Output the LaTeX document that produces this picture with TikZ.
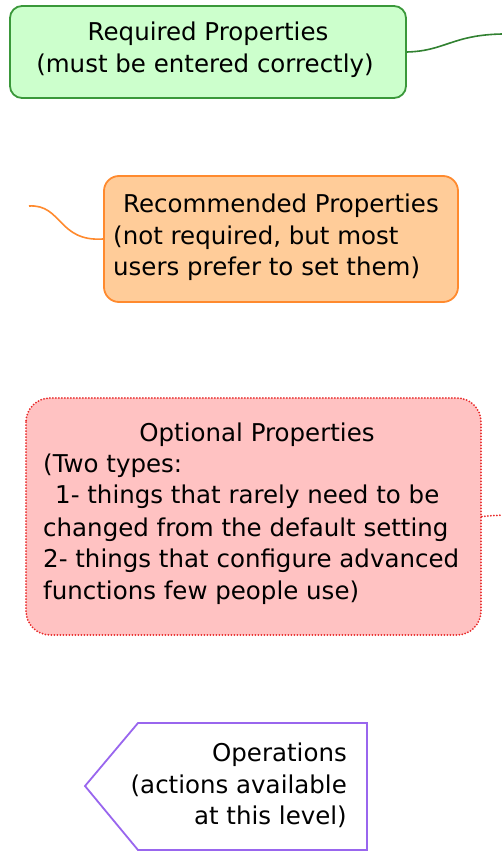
\documentclass[tikz,border=0pt]{standalone}
\usepackage{fontspec}
\setmainfont{DejaVu Sans}
\definecolor{gfill}{HTML}{CCFFCC}
\definecolor{gdraw}{HTML}{3A983A}
\definecolor{ofill}{HTML}{FFCC99}
\definecolor{odraw}{HTML}{FF8A2E}
\definecolor{pfill}{HTML}{FFC2C2}
\definecolor{pdraw}{HTML}{E82A2A}
\definecolor{vdraw}{HTML}{9966EE}
\begin{document}
\begin{tikzpicture}[x=1pt,y=1pt,
  box/.style={inner sep=0pt, line width=1.8pt},
  txt/.style={inner sep=0pt, font=\fontsize{24.5}{31.5}\selectfont, text=black},
  dotline/.style={line width=2pt, line cap=round, dash pattern=on 0pt off 3pt}]
\useasboundingbox (0,0) rectangle (501,-854);
% Required
\node[box, draw=gdraw, fill=gfill, rounded corners=12pt, minimum width=396pt, minimum height=92pt] (req) at (208,-52) {};
\node[txt] (reqt1) at (208,-34) {Required Properties};
\node[txt] (reqt2) at (205,-66) {(must be entered correctly)};
\coordinate (reqend) at (502,-34);
\draw[gdraw!85!black, line width=1.6pt] (req.east) .. controls (445,-51) and (452,-35) .. (reqend);
% Recommended
\node[box, draw=odraw, fill=ofill, rounded corners=15pt, minimum width=354pt, minimum height=126pt] (rec) at (281,-239) {};
\node[txt] (rect1) at (281,-206) {Recommended Properties};
\node[txt, anchor=west] (rect2) at (113,-238) {(not required, but most};
\node[txt, anchor=west] (rect3) at (113,-269) {users prefer to set them)};
\coordinate (recstart) at (29,-206);
\draw[odraw, line width=1.6pt] (recstart) .. controls (62,-204) and (58,-242) .. (rec.west);
% Optional
\node[box, fill=pfill, rounded corners=24pt, minimum width=455pt, minimum height=237pt] (opt) at (253.5,-516.5) {};
\draw[dotline, draw=pdraw, rounded corners=24pt] (26,-398) rectangle (481,-635);
\node[txt] (optt1) at (257,-435) {Optional Properties};
\node[txt, anchor=west] (optt2) at (43,-466) {(Two types:};
\node[txt, anchor=west] (optt3) at (55,-497) {1- things that rarely need to be};
\node[txt, anchor=west] (optt4) at (43,-530) {changed from the default setting};
\node[txt, anchor=west] (optt5) at (43,-561) {2- things that configure advanced};
\node[txt, anchor=west] (optt6) at (43,-593) {functions few people use)};
\coordinate (optend) at (502,-515);
\draw[dotline, draw=pdraw] (opt.east) -- (optend);
% Operations
\draw[vdraw, line width=1.8pt, fill=white, line join=miter] (138,-723) -- (367,-723) -- (367,-850) -- (138,-850) -- (85,-786) -- cycle;
\node[txt, anchor=east] (opst1) at (347,-755) {Operations};
\node[txt, anchor=east] (opst2) at (347,-786) {(actions available};
\node[txt, anchor=east] (opst3) at (347,-817) {at this level)};
\end{tikzpicture}
\end{document}
